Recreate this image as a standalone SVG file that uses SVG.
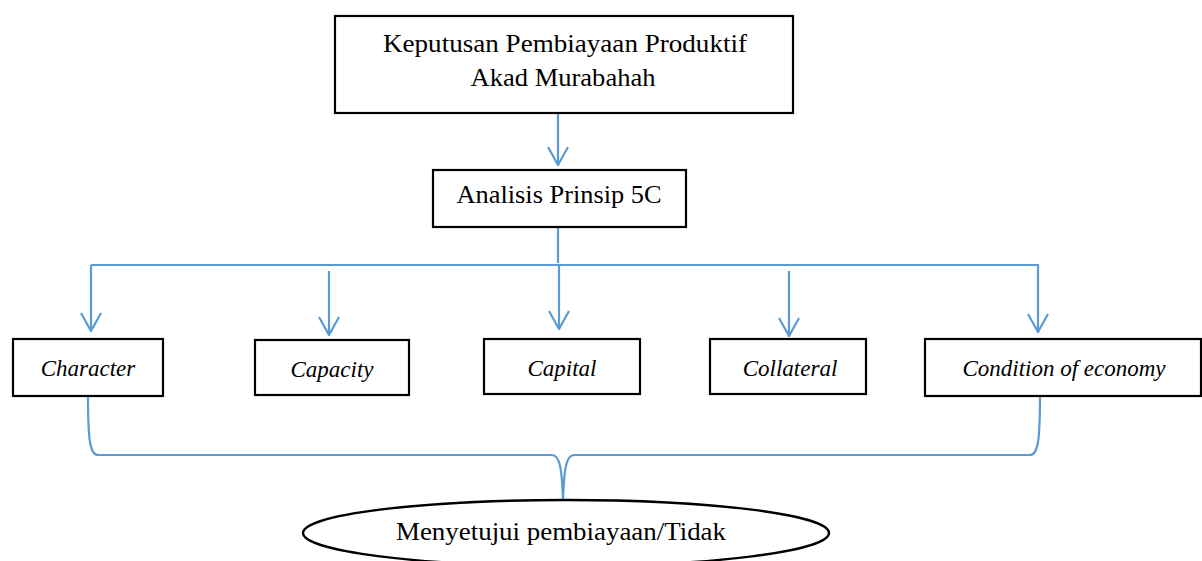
<svg xmlns="http://www.w3.org/2000/svg" width="1202" height="561" viewBox="0 0 1202 561">
<defs>
<style>
.box{fill:#fff;stroke:#000;stroke-width:2.2}
.t{font-family:"Liberation Serif","DejaVu Serif",serif;font-size:26px;fill:#000;text-anchor:middle}
.i{font-style:italic;font-size:23px}
.c{fill:none;stroke:#5B9BD5;stroke-width:2.2}
</style>
<marker id="ah" viewBox="0 0 20 24" refX="19" refY="12" markerWidth="20" markerHeight="24" markerUnits="userSpaceOnUse" orient="auto">
<path d="M1,2 L19,12 L1,22" fill="none" stroke="#5B9BD5" stroke-width="2.2"/>
</marker>
</defs>
<rect width="1202" height="561" fill="#fff"/>
<g id="connectors">
<path class="c" d="M558,113 V165" marker-end="url(#ah)"/>
<path class="c" d="M558,227 V263"/>
<path class="c" d="M91,265 H1038"/>
<path class="c" d="M91,265 V331" marker-end="url(#ah)"/>
<path class="c" d="M1038,264 V332" marker-end="url(#ah)"/>
<path class="c" d="M329,271 V335" marker-end="url(#ah)"/>
<path class="c" d="M559,265 V329" marker-end="url(#ah)"/>
<path class="c" d="M789,271 V336" marker-end="url(#ah)"/>
<path class="c" d="M88,396 C88,440 90,455 98,455 H552 C560,455 562,470 563,500 C564,470 566,455 574,455 H1030 C1038,455 1040,440 1040,396"/>
</g>
<g id="n-keputusan">
<rect class="box" x="335" y="16" width="458" height="97"/>
<text class="t" x="565" y="52" textLength="364" lengthAdjust="spacingAndGlyphs">Keputusan Pembiayaan Produktif</text>
<text class="t" x="563" y="86" textLength="185" lengthAdjust="spacingAndGlyphs">Akad Murabahah</text>
</g>
<g id="n-analisis">
<rect class="box" x="433" y="170" width="253" height="57"/>
<text class="t" x="559" y="203" textLength="205" lengthAdjust="spacingAndGlyphs">Analisis Prinsip 5C</text>
</g>
<g id="n-character">
<rect class="box" x="13" y="339" width="150" height="57"/>
<text class="t i" x="88" y="376">Character</text>
</g>
<g id="n-capacity">
<rect class="box" x="255" y="340" width="154" height="55"/>
<text class="t i" x="332" y="377">Capacity</text>
</g>
<g id="n-capital">
<rect class="box" x="484" y="339" width="156" height="55"/>
<text class="t i" x="562" y="376">Capital</text>
</g>
<g id="n-collateral">
<rect class="box" x="710" y="339" width="156" height="55"/>
<text class="t i" x="790" y="376">Collateral</text>
</g>
<g id="n-condition">
<rect class="box" x="925" y="339" width="276" height="57"/>
<text class="t i" x="1064" y="376">Condition of economy</text>
</g>
<g id="n-menyetujui">
<ellipse cx="566" cy="533" rx="263" ry="33" fill="#fff" stroke="#000" stroke-width="2.4"/>
<text class="t" x="561" y="540" textLength="330" lengthAdjust="spacingAndGlyphs">Menyetujui pembiayaan/Tidak</text>
</g>
</svg>
